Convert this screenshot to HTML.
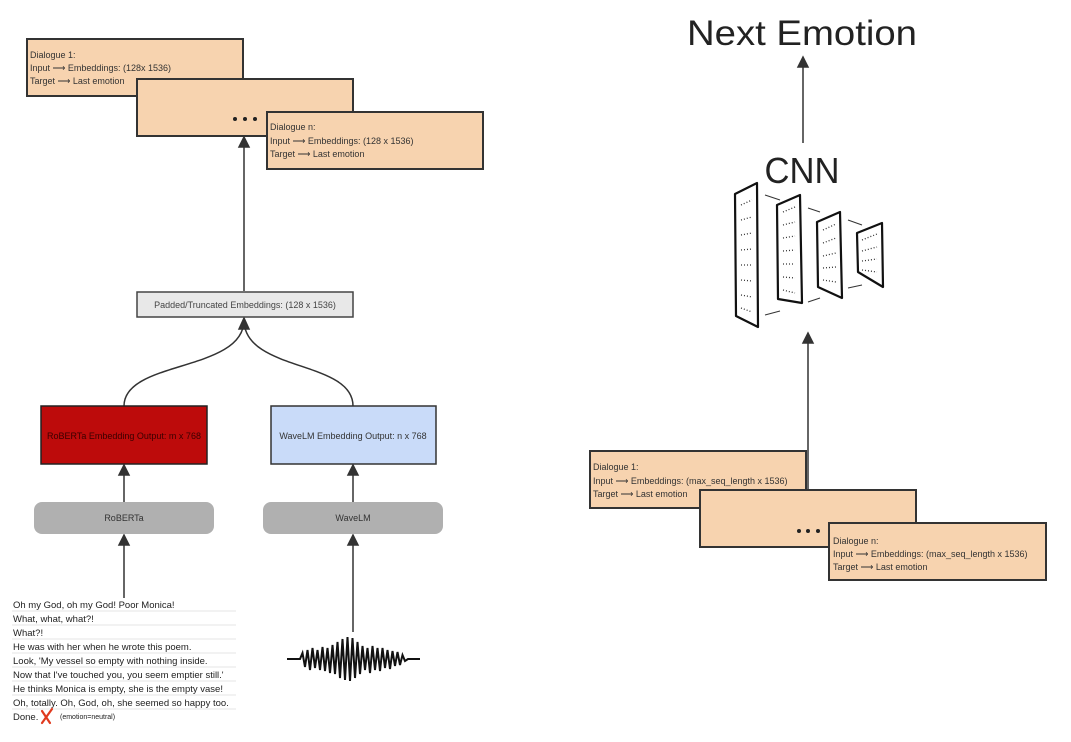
<!DOCTYPE html>
<html><head><meta charset="utf-8"><style>
html,body{margin:0;padding:0;background:#fff;}
svg{display:block;}
text{font-family:"Liberation Sans",sans-serif;}
</style></head><body>
<svg width="1071" height="742" viewBox="0 0 1071 742" xmlns="http://www.w3.org/2000/svg">
<g stroke="#333" stroke-width="1.5" fill="none">
<line x1="244" y1="291" x2="244" y2="146"/>
<path d="M244,147 L239,147 L244,137 L249,147 Z" fill="#333"/>
<path d="M124,406 C124,360 244,372 244,320"/>
<path d="M353,406 C353,360 244,372 244,320"/>
<path d="M239,329 L244,318 L249,329 Z" fill="#333"/>
<line x1="124" y1="502" x2="124" y2="474"/>
<path d="M119,475 L124,465 L129,475 Z" fill="#333"/>
<line x1="353" y1="502" x2="353" y2="474"/>
<path d="M348,475 L353,465 L358,475 Z" fill="#333"/>
<line x1="124" y1="598" x2="124" y2="544"/>
<path d="M119,545 L124,535 L129,545 Z" fill="#333"/>
<line x1="353" y1="632" x2="353" y2="544"/>
<path d="M348,545 L353,535 L358,545 Z" fill="#333"/>
<line x1="803" y1="143" x2="803" y2="66"/>
<path d="M798,67 L803,57 L808,67 Z" fill="#333"/>
<line x1="808" y1="490" x2="808" y2="342"/>
<path d="M803,343 L808,333 L813,343 Z" fill="#333"/>
</g>

<g stroke="#333" stroke-width="2" fill="#f7d3af">
<rect x="27" y="39" width="216" height="57"/>
<rect x="137" y="79" width="216" height="57"/>
<rect x="267" y="112" width="216" height="57"/>
</g>
<g font-size="9" fill="#333">
<text x="30" y="58">Dialogue 1:</text>
<text x="30" y="71">Input ⟶ Embeddings: (128x 1536)</text>
<text x="30" y="84">Target ⟶ Last emotion</text>
<text x="270" y="130">Dialogue n:</text>
<text x="270" y="144">Input ⟶ Embeddings: (128 x 1536)</text>
<text x="270" y="157">Target ⟶ Last emotion</text>
</g>
<g fill="#222"><circle cx="235" cy="119" r="2"/><circle cx="245" cy="119" r="2"/><circle cx="255" cy="119" r="2"/></g>

<rect x="137" y="292" width="216" height="25" fill="#e8e8e8" stroke="#444" stroke-width="1.5"/>
<text x="245" y="308" font-size="9" fill="#444" text-anchor="middle">Padded/Truncated Embeddings: (128 x 1536)</text>

<rect x="41" y="406" width="166" height="58" fill="#bd0b0b" stroke="#222" stroke-width="1.5"/>
<text x="124" y="439" font-size="9" fill="#3a0000" text-anchor="middle">RoBERTa Embedding Output: m x 768</text>
<rect x="271" y="406" width="165" height="58" fill="#c9dbf9" stroke="#333" stroke-width="1.5"/>
<text x="353" y="439" font-size="9" fill="#333" text-anchor="middle">WaveLM Embedding Output: n x 768</text>

<rect x="34" y="502" width="180" height="32" rx="8" fill="#b0b0b0"/>
<text x="124" y="521" font-size="9" fill="#333" text-anchor="middle">RoBERTa</text>
<rect x="263" y="502" width="180" height="32" rx="8" fill="#b0b0b0"/>
<text x="353" y="521" font-size="9" fill="#333" text-anchor="middle">WaveLM</text>

<g stroke="#e4e4e4" stroke-width="1">
<line x1="12" y1="611" x2="236" y2="611"/><line x1="12" y1="625" x2="236" y2="625"/>
<line x1="12" y1="639" x2="236" y2="639"/><line x1="12" y1="653" x2="236" y2="653"/>
<line x1="12" y1="667" x2="236" y2="667"/><line x1="12" y1="681" x2="236" y2="681"/>
<line x1="12" y1="695" x2="236" y2="695"/><line x1="12" y1="709" x2="236" y2="709"/>
</g>
<g font-size="9.5" fill="#222">
<text x="13" y="608">Oh my God, oh my God! Poor Monica!</text>
<text x="13" y="622">What, what, what?!</text>
<text x="13" y="636">What?!</text>
<text x="13" y="650">He was with her when he wrote this poem.</text>
<text x="13" y="664">Look,  'My vessel so empty with nothing inside.</text>
<text x="13" y="678">Now that I've touched you, you seem emptier still.'</text>
<text x="13" y="692">He thinks Monica is empty, she is the empty vase!</text>
<text x="13" y="706">Oh, totally. Oh, God, oh, she seemed so happy too.</text>
<text x="13" y="720">Done.</text>
<text x="60" y="719" font-size="7">(emotion=neutral)</text>
</g>
<g stroke="#e03a1e" stroke-width="2.2" stroke-linecap="round"><line x1="42" y1="711" x2="50" y2="723"/><line x1="52" y1="709" x2="42" y2="723"/></g>

<polyline fill="none" stroke="#111" stroke-width="2" points="287,659 300,659 302.5,653 305,667 307.5,650 310,670 312.5,648 315,668 317.5,650 320,670 322.5,647 325,671 327.5,648 330,673 332.5,645 335,674 337.5,642 340,678 342.5,639 345,680 347.5,637 350,681 352.5,638 355,678 357.5,642 360,674 362.5,646 365,670 367.5,648 370,673 372.5,646 375,670 377.5,648 380,671 382.5,648 385,668 387.5,650 390,669 392.5,651 395,666 397.5,652 400,665 402.5,655 405,661 408,659 420,659"/>

<text x="802" y="45" font-size="35" fill="#222" text-anchor="middle" textLength="230" lengthAdjust="spacingAndGlyphs">Next Emotion</text>
<text x="802" y="183" font-size="36" fill="#222" text-anchor="middle" textLength="75" lengthAdjust="spacingAndGlyphs">CNN</text>

<g stroke="#333" stroke-width="1" fill="none">
<line x1="765" y1="195" x2="780" y2="200"/><line x1="808" y1="208" x2="820" y2="212"/>
<line x1="848" y1="220" x2="862" y2="225"/>
<line x1="765" y1="315" x2="780" y2="311"/><line x1="808" y1="302" x2="820" y2="298"/>
<line x1="848" y1="288" x2="862" y2="285"/>
</g>
<g stroke="#111" stroke-width="2.2" fill="#fff" stroke-linejoin="round">
<polygon points="735,194 757,183 758,327 736,316"/>
<polygon points="777,205 800,195 802,303 778,299"/>
<polygon points="817,222 840,212 842,298 818,287"/>
<polygon points="857,233 882,223 883,287 858,272"/>
</g>
<g stroke="#333" stroke-width="1.3" stroke-dasharray="1 2">
<line x1="741" y1="205" x2="752" y2="200"/><line x1="741" y1="220" x2="752" y2="217"/>
<line x1="741" y1="235" x2="752" y2="233"/><line x1="741" y1="250" x2="752" y2="249"/>
<line x1="741" y1="265" x2="752" y2="265"/><line x1="741" y1="280" x2="752" y2="281"/>
<line x1="741" y1="295" x2="752" y2="297"/><line x1="741" y1="308" x2="752" y2="312"/>
<line x1="783" y1="212" x2="795" y2="207"/><line x1="783" y1="225" x2="795" y2="222"/>
<line x1="783" y1="238" x2="795" y2="236"/><line x1="783" y1="251" x2="795" y2="250"/>
<line x1="783" y1="264" x2="795" y2="264"/><line x1="783" y1="277" x2="795" y2="278"/>
<line x1="783" y1="290" x2="795" y2="293"/>
<line x1="823" y1="230" x2="836" y2="224"/><line x1="823" y1="243" x2="836" y2="238"/>
<line x1="823" y1="256" x2="836" y2="253"/><line x1="823" y1="268" x2="836" y2="267"/>
<line x1="823" y1="280" x2="836" y2="282"/>
<line x1="862" y1="240" x2="877" y2="234"/><line x1="862" y1="251" x2="877" y2="247"/>
<line x1="862" y1="261" x2="877" y2="259"/><line x1="862" y1="270" x2="877" y2="272"/>
</g>

<g stroke="#333" stroke-width="2" fill="#f7d3af">
<rect x="590" y="451" width="216" height="57"/>
<rect x="700" y="490" width="216" height="57"/>
<rect x="829" y="523" width="217" height="57"/>
</g>
<g font-size="9" fill="#333">
<text x="593" y="470">Dialogue 1:</text>
<text x="593" y="484">Input ⟶ Embeddings: (max_seq_length x 1536)</text>
<text x="593" y="497">Target ⟶ Last emotion</text>
<text x="833" y="544">Dialogue n:</text>
<text x="833" y="557">Input ⟶ Embeddings: (max_seq_length x 1536)</text>
<text x="833" y="570">Target ⟶ Last emotion</text>
</g>
<g fill="#222"><circle cx="799" cy="531" r="2"/><circle cx="808" cy="531" r="2"/><circle cx="818" cy="531" r="2"/></g>
</svg>
</body></html>
